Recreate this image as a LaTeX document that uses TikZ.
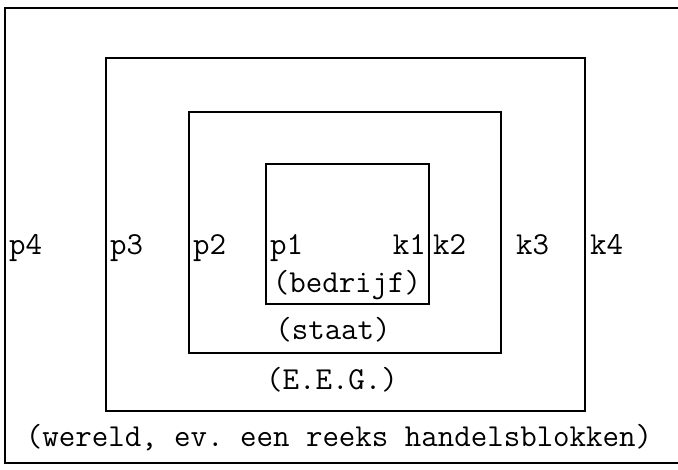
\documentclass[tikz,border=0pt]{standalone}
\usepackage{fontspec}
\usetikzlibrary{positioning}

\tikzset{
  ring/.style={line width=1.8pt, line join=miter},
  tag/.style={font=\ttfamily\fontsize{32}{36}\selectfont\frenchspacing\addfontfeatures{FakeBold=1.5}, inner sep=0pt}
}

\begin{document}
\begin{tikzpicture}[x=1pt, y=-1pt]
  \useasboundingbox (0,0) rectangle (678,469);
  % wereld (runs off the right edge)
  \draw[ring] (680,8) -- (5,8) -- (5,463) -- (680,463);
  % E.E.G., staat, bedrijf
  \draw[ring] (106,58) rectangle (585,411);
  \draw[ring] (189,112) rectangle (501,353);
  \draw[ring] (266,164) rectangle (429,304);

  \node[tag, anchor=base west] (p4) at (9,254) {p4};
  \node[tag, anchor=base west] (p3) at (110,254) {p3};
  \node[tag, anchor=base west] (p2) at (193,254) {p2};
  \node[tag, anchor=base west] (p1) at (270,254) {p1};
  \node[tag, anchor=base east] (k1) at (426,254) {k1};
  \node[tag, anchor=base west] (k2) at (433,254) {k2};
  \node[tag, anchor=base west] (k3) at (516,254) {k3};
  \node[tag, anchor=base west] (k4) at (590,254) {k4};

  \node[tag, anchor=base] (bedrijf) at (347,292) {(bedrijf)};
  \node[tag, anchor=base] (staat) at (333,339) {(staat)};
  \node[tag, anchor=base] (eeg) at (332,389) {(E.E.G.)};
  \node[tag, anchor=base] (wereld) at (339,446) {(wereld, ev. een reeks handelsblokken)};
\end{tikzpicture}
\end{document}
